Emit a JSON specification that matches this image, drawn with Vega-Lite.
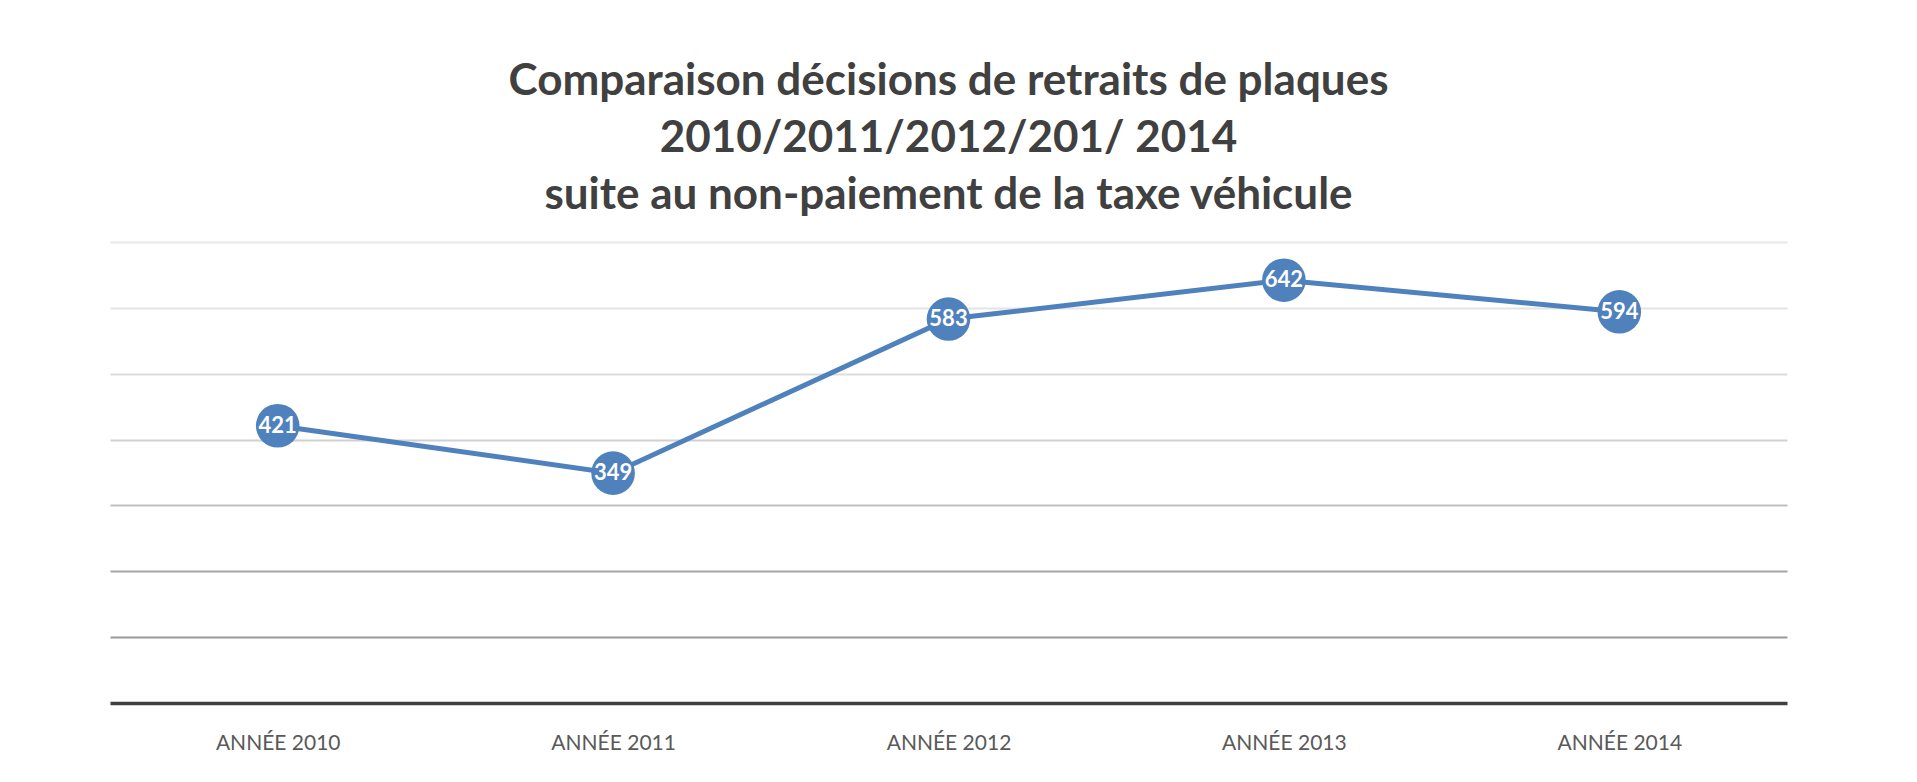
{
  "$schema": "https://vega.github.io/schema/vega-lite/v6.json",
  "autosize": {"type": "none"},
  "width": 1677,
  "height": 461,
  "padding": {"left": 110, "top": 242, "right": 130, "bottom": 79},
  "background": "white",
  "title": {
    "text": ["Comparaison décisions de retraits de plaques", "2010/2011/2012/201/ 2014", "suite au non-paiement de la taxe véhicule"],
    "font": "Lato",
    "fontSize": 44,
    "fontWeight": "bold",
    "color": "#404040",
    "lineHeight": 57,
    "anchor": "middle",
    "offset": 24
  },
  "data": {
    "values": [
      {"annee": "ANNÉE 2010", "valeur": 421},
      {"annee": "ANNÉE 2011", "valeur": 349},
      {"annee": "ANNÉE 2012", "valeur": 583},
      {"annee": "ANNÉE 2013", "valeur": 642},
      {"annee": "ANNÉE 2014", "valeur": 594}
    ]
  },
  "encoding": {
    "x": {
      "field": "annee",
      "type": "nominal",
      "sort": null,
      "scale": {"type": "point", "padding": 0.5},
      "axis": {
        "title": null,
        "labelAngle": 0,
        "labelFont": "Lato",
        "labelFontSize": 21,
        "labelColor": "#595959",
        "labelPadding": 29,
        "ticks": false,
        "tickSize": 0,
        "grid": false,
        "domainColor": "#404040",
        "domainWidth": 3.5,
        "zindex": 0
      }
    },
    "y": {
      "field": "valeur",
      "type": "quantitative",
      "scale": {"domain": [0, 700], "nice": false},
      "axis": {
        "title": null,
        "labels": false,
        "ticks": false,
        "domain": false,
        "values": [100, 200, 300, 400, 500, 600, 700],
        "grid": true,
        "gridWidth": 2,
        "gridColor": {
          "condition": [
            {"test": "datum.value <= 100", "value": "#9a9a9a"},
            {"test": "datum.value <= 200", "value": "#a6a6a6"},
            {"test": "datum.value <= 300", "value": "#bfbfbf"},
            {"test": "datum.value <= 400", "value": "#d0d0d0"},
            {"test": "datum.value <= 500", "value": "#dcdcdc"},
            {"test": "datum.value <= 600", "value": "#e4e4e4"}
          ],
          "value": "#e8e8e8"
        }
      }
    }
  },
  "layer": [
    {
      "mark": {"type": "line", "color": "#4f81bd", "strokeWidth": 5}
    },
    {
      "mark": {"type": "circle", "size": 1900, "color": "#4f81bd", "opacity": 1}
    },
    {
      "mark": {"type": "text", "font": "Lato", "fontSize": 22, "fontWeight": "bold", "color": "white", "baseline": "middle", "align": "center"},
      "encoding": {"text": {"field": "valeur", "type": "quantitative"}}
    }
  ],
  "config": {
    "view": {"stroke": null}
  }
}
